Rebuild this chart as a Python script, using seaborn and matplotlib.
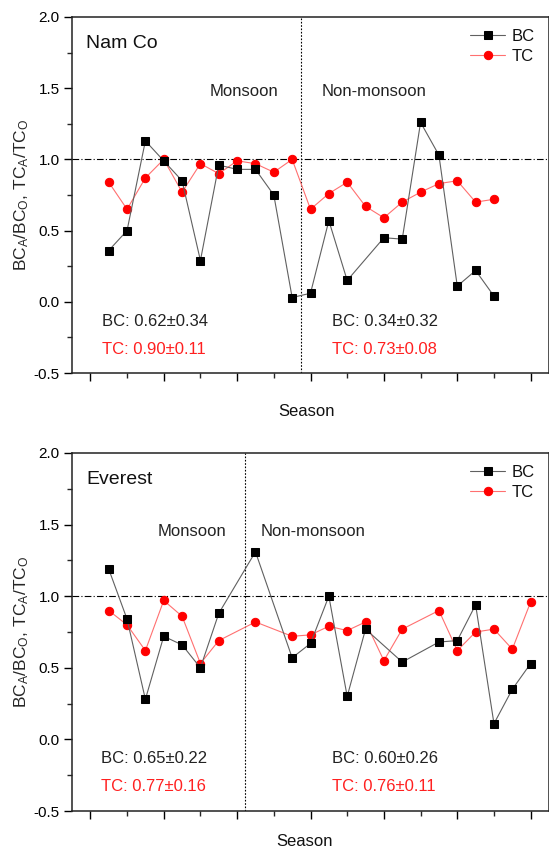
import numpy as np
import matplotlib
matplotlib.use('Agg')
import matplotlib.pyplot as plt
from matplotlib.ticker import MultipleLocator, NullFormatter
import seaborn as sns

# ---- Nam Co ----
nam_bc_x = [1, 2, 3, 4, 5, 6, 7, 8, 9, 10, 11, 12, 13, 14, 16, 17, 18, 19, 20, 21, 22]
nam_bc_y = [0.36, 0.50, 1.13, 0.99, 0.85, 0.29, 0.96, 0.93, 0.93, 0.75, 0.03,
            0.06, 0.57, 0.15, 0.45, 0.44, 1.26, 1.03, 0.11, 0.22, 0.04]
nam_tc_x = [1, 2, 3, 4, 5, 6, 7, 8, 9, 10, 11, 12, 13, 14, 15, 16, 17, 18, 19, 20, 21, 22]
nam_tc_y = [0.84, 0.65, 0.87, 1.00, 0.77, 0.97, 0.90, 0.99, 0.97, 0.91, 1.00,
            0.65, 0.76, 0.84, 0.67, 0.59, 0.70, 0.77, 0.83, 0.85, 0.70, 0.72]
nam_split = 11.5

# ---- Everest ----
eve_bc_x = [1, 2, 3, 4, 5, 6, 7, 9, 11, 12, 13, 14, 15, 17, 19, 20, 21, 22, 23, 24]
eve_bc_y = [1.19, 0.84, 0.28, 0.72, 0.66, 0.50, 0.88, 1.31,
            0.57, 0.67, 1.00, 0.30, 0.77, 0.54, 0.68, 0.69, 0.94, 0.11, 0.35, 0.53]
eve_tc_x = [1, 2, 3, 4, 5, 6, 7, 9, 11, 12, 13, 14, 15, 16, 17, 19, 20, 21, 22, 23, 24]
eve_tc_y = [0.90, 0.80, 0.62, 0.97, 0.86, 0.53, 0.69, 0.82,
            0.72, 0.73, 0.79, 0.76, 0.82, 0.55, 0.77, 0.90, 0.62, 0.75, 0.77, 0.63, 0.96]
eve_split = 8.45

stats_nam = [('BC: 0.62\u00b10.34', 'TC: 0.90\u00b10.11'), ('BC: 0.34\u00b10.32', 'TC: 0.73\u00b10.08')]
stats_eve = [('BC: 0.65\u00b10.22', 'TC: 0.77\u00b10.16'), ('BC: 0.60\u00b10.26', 'TC: 0.76\u00b10.11')]

sns.set_theme(style='ticks')
plt.rcParams['font.family'] = ['Liberation Sans', 'DejaVu Sans']
plt.rcParams['mathtext.fontset'] = 'custom'
plt.rcParams['mathtext.rm'] = 'Liberation Sans'
plt.rcParams['mathtext.it'] = 'Liberation Sans:italic'

fig = plt.figure(figsize=(5.49, 8.47), dpi=100)
W, H = 549, 847


def make_axes(left, top, bottom):
    return fig.add_axes([left / W, 1 - bottom / H, 1 - left / W, (bottom - top) / H])


def draw_panel(ax, bc_x, bc_y, tc_x, tc_y, split, name, mon_x, non_x, lab_y,
               stats, stat_x, stat_y):
    ax.axhline(1.0, color='black', lw=0.8, ls=(0, (6, 2, 1, 2)), zorder=1)
    ax.axvline(split, color='black', lw=0.8, ls=(0, (1.5, 1.5)), zorder=1)
    sns.lineplot(x=bc_x, y=bc_y, ax=ax, color='#606060', lw=0.8, marker='s',
                 markersize=5.2, markerfacecolor='black', markeredgecolor='black',
                 label='BC', zorder=3)
    sns.lineplot(x=tc_x, y=tc_y, ax=ax, color='#ff7070', lw=0.8, marker='o',
                 markersize=6, markerfacecolor='#ff0000', markeredgecolor='#ff0000',
                 label='TC', zorder=2)
    ax.set_xlim(-1, 25)
    ax.set_ylim(-0.5, 2.0)
    ax.xaxis.set_major_locator(MultipleLocator(4))
    ax.xaxis.set_minor_locator(MultipleLocator(2))
    ax.xaxis.set_major_formatter(NullFormatter())
    ax.yaxis.set_major_locator(MultipleLocator(0.5))
    ax.yaxis.set_minor_locator(MultipleLocator(0.25))
    ax.tick_params(which='major', direction='out', length=6, width=1, labelsize=11,
                   colors='black', pad=3)
    ax.tick_params(which='minor', direction='out', length=3.5, width=1)
    ax.yaxis.set_major_formatter(matplotlib.ticker.FormatStrFormatter('%.1f'))
    for s in ax.spines.values():
        s.set_color('#222222')
        s.set_linewidth(1.1)
    ax.set_xlabel('')
    ax.set_ylabel(r'BC$_\mathregular{A}$/BC$_\mathregular{O}$, TC$_\mathregular{A}$/TC$_\mathregular{O}$',
                  fontsize=12.5, labelpad=2)
    ax.text(0.03, 0.95, name, transform=ax.transAxes, fontsize=14, va='top', ha='left',
            color='#111111')
    ax.text(mon_x, lab_y, 'Monsoon', fontsize=12, ha='center', va='center', color='#222222')
    ax.text(non_x, lab_y, 'Non-monsoon', fontsize=12, ha='center', va='center', color='#222222')
    for (bc_txt, tc_txt), sx in zip(stats, stat_x):
        ax.text(sx, stat_y[0], bc_txt, fontsize=12, ha='left', va='center', color='#222222')
        ax.text(sx, stat_y[1], tc_txt, fontsize=12, ha='left', va='center', color='#ff2020')
    leg = ax.legend(loc='upper right', frameon=False, fontsize=12, handlelength=2.1,
                    borderaxespad=0.3, labelspacing=0.3, handletextpad=0.4,
                    bbox_to_anchor=(0.995, 1.0))
    for t in leg.get_texts():
        t.set_color('#111111')


ax1 = make_axes(72, 17, 373)
draw_panel(ax1, nam_bc_x, nam_bc_y, nam_tc_x, nam_tc_y, nam_split, 'Nam Co',
           8.36, 15.44, 1.48, stats_nam, [0.63, 13.15], [-0.135, -0.335])
fig.text(307 / W, 1 - 411 / H, 'Season', fontsize=12, ha='center', va='center', color='#111111')

ax2 = make_axes(72, 453, 811)
draw_panel(ax2, eve_bc_x, eve_bc_y, eve_tc_x, eve_tc_y, eve_split, 'Everest',
           5.52, 12.14, 1.453, stats_eve, [0.58, 13.15], [-0.13, -0.33])
fig.text(305 / W, 1 - 841 / H, 'Season', fontsize=12, ha='center', va='center', color='#111111')

fig.savefig('out.png', dpi=100)
